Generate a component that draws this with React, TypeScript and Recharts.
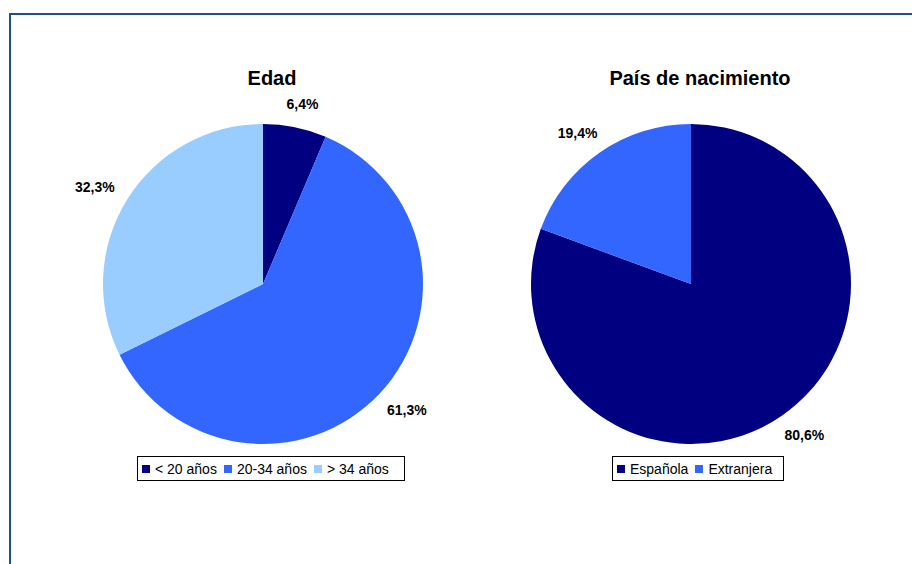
import React from "react";
import { PieChart, Pie, Cell } from "recharts";

// Edad
const edadCategories = ["< 20 años", "20-34 años", "> 34 años"];
const edadValues = [6.4, 61.3, 32.3];
const edadColors = ["#000080", "#3366FF", "#99CCFF"];

// País de nacimiento
const paisCategories = ["Española", "Extranjera"];
const paisValues = [80.6, 19.4];
const paisColors = ["#000080", "#3366FF"];

const FONT = "'Liberation Sans', Arial, sans-serif";
const RAD = Math.PI / 180;

// labels sit on a slightly wider ellipse around the pie, like the original
const renderLabel = (props: any) => {
  const { cx, cy, midAngle, outerRadius, value } = props;
  const rx = outerRadius + 38;
  const ry = outerRadius + 24;
  const x = cx + rx * Math.cos(-midAngle * RAD);
  const y = cy + ry * Math.sin(-midAngle * RAD);
  return (
    <text
      x={x}
      y={y}
      fill="#000"
      textAnchor="middle"
      dominantBaseline="central"
      fontFamily={FONT}
      fontSize={14}
      fontWeight="bold"
    >
      {value.toFixed(1).replace(".", ",")}%
    </text>
  );
};

function PieBlock({
  title,
  categories,
  values,
  colors,
  left,
  titleShift,
  legendLeft,
  legendWidth,
}: {
  title: string;
  categories: string[];
  values: number[];
  colors: string[];
  left: number;
  titleShift: number;
  legendLeft: number;
  legendWidth: number;
}) {
  const data = categories.map((name, i) => ({ name, value: values[i] }));
  return (
    <>
      <div
        style={{
          position: "absolute",
          left: left + titleShift,
          top: 68,
          width: 428,
          textAlign: "center",
          fontFamily: FONT,
          fontWeight: "bold",
          fontSize: 20,
          lineHeight: "20px",
          color: "#000",
        }}
      >
        {title}
      </div>
      <div style={{ position: "absolute", left, top: 0 }}>
        <PieChart width={428} height={564} margin={{ top: 0, right: 0, bottom: 0, left: 0 }}>
          <Pie
            data={data}
            dataKey="value"
            cx={214}
            cy={284}
            outerRadius={160}
            startAngle={90}
            endAngle={-270}
            stroke="none"
            label={renderLabel}
            labelLine={false}
            isAnimationActive={false}
          >
            {data.map((d, i) => (
              <Cell key={d.name} fill={colors[i]} />
            ))}
          </Pie>
        </PieChart>
      </div>
      <div
        style={{
          position: "absolute",
          left: legendLeft,
          top: 456,
          width: legendWidth,
          height: 25,
          boxSizing: "border-box",
          border: "1px solid #000",
          display: "flex",
          alignItems: "center",
          paddingLeft: 4,
          fontFamily: FONT,
          fontSize: 14,
          color: "#000",
          background: "#fff",
        }}
      >
        {categories.map((c, i) => (
          <span key={c} style={{ display: "flex", alignItems: "center", marginRight: 7 }}>
            <span
              style={{
                display: "inline-block",
                width: 8,
                height: 8,
                background: colors[i],
                marginRight: 5,
              }}
            />
            {c}
          </span>
        ))}
      </div>
    </>
  );
}

export default function App() {
  return (
    <div
      style={{
        position: "fixed",
        left: 0,
        top: 0,
        width: 912,
        height: 564,
        overflow: "hidden",
        background: "#fff",
      }}
    >
      <div
        style={{
          position: "absolute",
          left: 9,
          top: 13,
          width: 1000,
          height: 1000,
          border: "2px solid #1F4E8C",
        }}
      />
      <PieBlock
        title="Edad"
        categories={edadCategories}
        values={edadValues}
        colors={edadColors}
        left={49}
        titleShift={9}
        legendLeft={137}
        legendWidth={268}
      />
      <PieBlock
        title="País de nacimiento"
        categories={paisCategories}
        values={paisValues}
        colors={paisColors}
        left={477}
        titleShift={9}
        legendLeft={612}
        legendWidth={172}
      />
    </div>
  );
}
